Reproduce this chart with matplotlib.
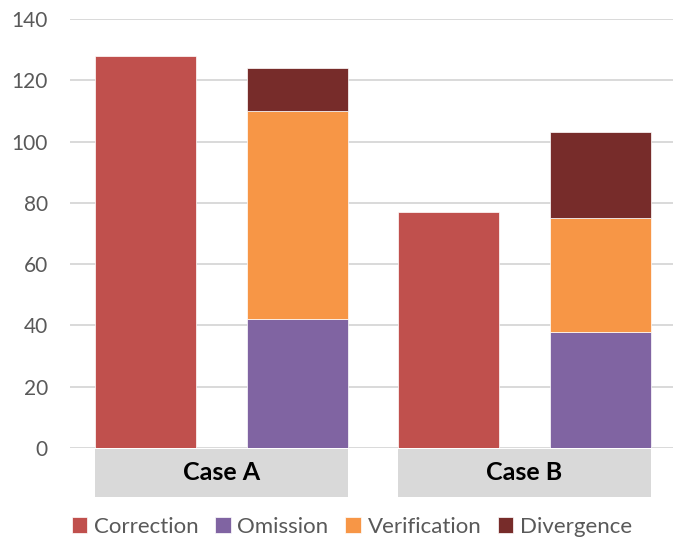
import matplotlib.pyplot as plt
from matplotlib.patches import Rectangle
import matplotlib.transforms as mtransforms

plt.rcParams['font.family'] = ['Lato', 'DejaVu Sans']

cases = ['Case A', 'Case B']
correction = [128, 77]
omission = [42, 38]
verification = [68, 37]
divergence = [14, 28]

colors = {
    'Correction': '#C0504D',
    'Omission': '#8064A2',
    'Verification': '#F79646',
    'Divergence': '#772C2A',
}

fig = plt.figure(figsize=(6.73, 5.39), dpi=100)
ax = fig.add_axes([70 / 673, 91 / 539, 606 / 673, 429 / 539])

w = 0.667
trans = mtransforms.blended_transform_factory(ax.transData, ax.transAxes)
for i, case in enumerate(cases):
    x_corr = 2 * i
    x_stack = 2 * i + 1
    ax.bar(x_corr, correction[i], w, color=colors['Correction'],
           edgecolor='white', linewidth=0.5, zorder=3,
           label='Correction' if i == 0 else None)
    ax.bar(x_stack, omission[i], w, color=colors['Omission'],
           edgecolor='white', linewidth=0.5, zorder=3,
           label='Omission' if i == 0 else None)
    ax.bar(x_stack, verification[i], w, bottom=omission[i],
           color=colors['Verification'], edgecolor='white', linewidth=0.5,
           zorder=3, label='Verification' if i == 0 else None)
    ax.bar(x_stack, divergence[i], w, bottom=omission[i] + verification[i],
           color=colors['Divergence'], edgecolor='white', linewidth=0.5,
           zorder=3, label='Divergence' if i == 0 else None)

    # grey category box under each pair of bars
    left = x_corr - w / 2
    right = x_stack + w / 2
    ax.add_patch(Rectangle((left, -0.115), right - left, 0.113,
                           transform=trans, facecolor='#D9D9D9',
                           edgecolor='none', clip_on=False))
    ax.text((left + right) / 2, -0.058, case, transform=trans,
            ha='center', va='center', fontsize=18, fontweight='bold',
            color='black')

ax.set_xlim(-0.5, 3.5)
ax.set_ylim(0, 140)
ax.set_yticks(range(0, 141, 20))
ax.set_xticks([])
ax.yaxis.grid(True, color='#D9D9D9', linewidth=1.4, zorder=0)
ax.set_axisbelow(True)
for s in ax.spines.values():
    s.set_visible(False)
ax.tick_params(axis='y', length=0, pad=16, labelsize=15, labelcolor='#595959')

fig.legend(loc='center', ncol=4, frameon=False, fontsize=16,
           labelcolor='#595959', handlelength=0.7, handleheight=0.7,
           handletextpad=0.3, columnspacing=0.75,
           bbox_to_anchor=(352 / 673, 12 / 539))

fig.savefig('out.png', dpi=100)
